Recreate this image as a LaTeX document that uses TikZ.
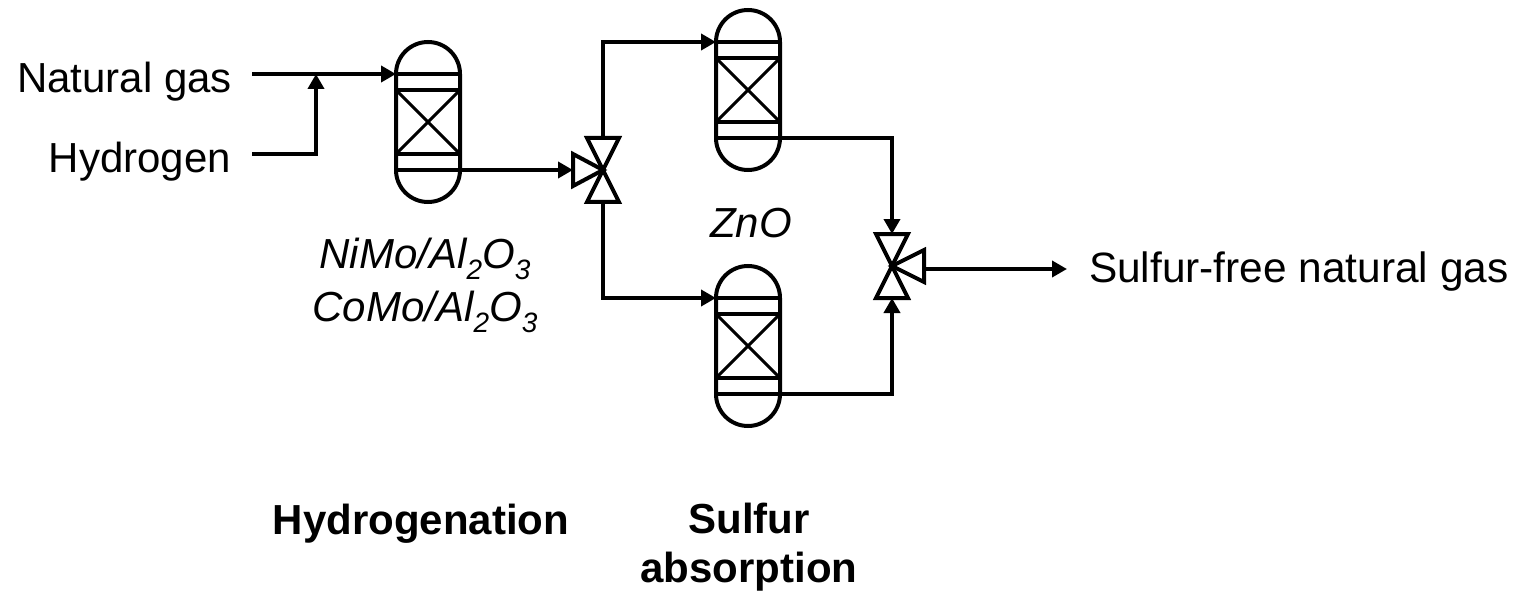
\documentclass[tikz,border=0pt]{standalone}
\usepackage{fontspec}
\setmainfont{Liberation Sans}
\usepackage{tikz}
\usetikzlibrary{arrows.meta}
\tikzset{
  reactor/.style={
    rectangle,
    rounded corners=32pt,
    draw=black,
    line width=4pt,
    minimum width=64pt,
    minimum height=160pt,
    inner sep=0pt,
    outer sep=0pt
  },
  pipe/.style={
    line width=4pt,
    draw=black
  },
  flowarrow/.style={
    pipe,
    -{Triangle[length=15pt,width=16pt]}
  },
  valvepart/.style={
    pipe,
    line join=miter
  },
  streamlabel/.style={
    font=\fontsize{42}{50}\selectfont,
    inner sep=0pt,
    outer sep=0pt
  },
  catalyst/.style={
    streamlabel,
    align=center,
    font=\fontsize{42}{53}\selectfont\itshape
  },
  stagelabel/.style={
    streamlabel,
    align=center,
    font=\fontsize{42}{49}\selectfont\bfseries
  }
}
\newcommand{\lowdigit}[1]{\raisebox{-11pt}{\fontsize{28}{28}\selectfont #1}}
% reactor with its packed bed: name, centre
\newcommand{\reactorbed}[2]{
  \node[reactor] (#1) at (#2) {};
  \draw[pipe] ([yshift=48pt]#1.west) coordinate (#1-in) -- ([yshift=48pt]#1.east);
  \draw[pipe] ([yshift=32pt]#1.west) coordinate (#1-tl) -- ([yshift=32pt]#1.east) coordinate (#1-tr);
  \draw[pipe] ([yshift=-32pt]#1.west) coordinate (#1-bl) -- ([yshift=-32pt]#1.east) coordinate (#1-br);
  \draw[pipe] ([yshift=-48pt]#1.west) -- ([yshift=-48pt]#1.east) coordinate (#1-out);
  \draw[pipe,line width=3pt] (#1-tl) -- (#1-br);
  \draw[pipe,line width=3pt] (#1-tr) -- (#1-bl);
}
% three-way valve: name, centre, reach of the side port (signed)
\newcommand{\threeway}[3]{
  \coordinate (#1) at (#2);
  \draw[valvepart] (#1) -- ++(-16,-32) -- ++(32,0) coordinate[midway] (#1-n) -- cycle;
  \draw[valvepart] (#1) -- ++(-16,32) -- ++(32,0) coordinate[midway] (#1-s) -- cycle;
  \draw[valvepart] (#1) -- ++(#3,-16) -- ++(0,32) coordinate[midway] (#1-side) -- cycle;
}

\begin{document}
\begin{tikzpicture}[x=1pt,y=-1pt]
\useasboundingbox (0,0) rectangle (1519,591);

\reactorbed{hydro}{428,122}
\reactorbed{absorbtop}{748,90}
\reactorbed{absorbbot}{748,346}
\threeway{split}{603,170}{-30}
\threeway{merge}{892,266}{32}

\node[streamlabel,anchor=base east] (gas) at (232,93) {Natural gas};
\node[streamlabel,anchor=base east] (hydrogen) at (231,173) {Hydrogen};
\node[streamlabel,anchor=base west,font=\fontsize{42.4}{50}\selectfont] (product) at (1089,282) {Sulfur-free natural gas};
\node[catalyst,anchor=base] (hydrocat) at (425,321) {NiMo/Al\lowdigit{2}O\lowdigit{3}\\CoMo/Al\lowdigit{2}O\lowdigit{3}};
\node[catalyst,anchor=base] (zno) at (751,237) {ZnO};
\node[stagelabel,anchor=base] (hydrostage) at (421,534) {Hydrogenation};
\node[stagelabel,anchor=base] (sulfurstage) at (749,582) {Sulfur\\absorption};

\coordinate (gasin) at (252,74);
\coordinate (h2in) at (252,154);
\coordinate (join) at (316,74);
\coordinate (outend) at (1067,269);

\draw[flowarrow] (gasin) -- (hydro-in);
\draw[flowarrow] (h2in) -| (join);
\draw[flowarrow] (hydro-out) -- (split-side);
\draw[flowarrow] (split-n) |- (absorbtop-in);
\draw[flowarrow] (split-s) |- (absorbbot-in);
\draw[flowarrow] (absorbtop-out) -| (merge-n);
\draw[flowarrow] (absorbbot-out) -| (merge-s);
\draw[flowarrow] (merge-side |- outend) -- (outend);
\end{tikzpicture}
\end{document}
